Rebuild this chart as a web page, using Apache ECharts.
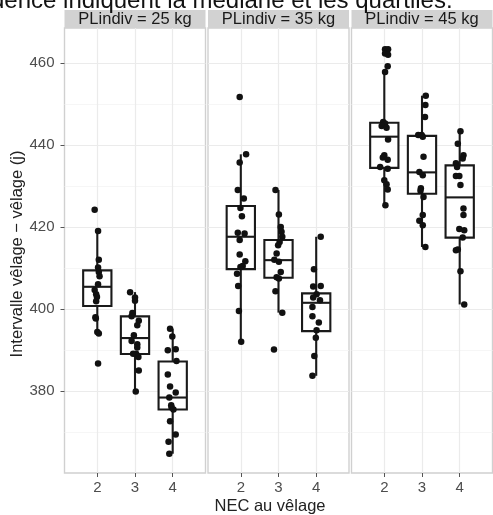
<!DOCTYPE html>
<html>
<head>
<meta charset="utf-8">
<script src="https://cdn.jsdelivr.net/npm/echarts@6/dist/echarts.min.js"></script>
<style>html,body{margin:0;padding:0;background:#fff;}#c{width:493px;height:515px;}</style>
</head>
<body>
<div id="c"></div>
<script>
const categories = [2, 3, 4];
const panelLabels = ['PLindiv = 25 kg', 'PLindiv = 35 kg', 'PLindiv = 45 kg'];
const yTicks = [380, 400, 420, 440, 460];

// jittered observations [x position, value]
const points25 = [
  [1.93,424.2],[2.02,419.0],[2.04,412.0],[2.02,410.1],[2.04,409.0],[2.06,408.0],[2.02,406.0],[1.93,404.6],[1.97,403.6],[1.99,402.9],[1.97,401.9],[1.95,398.0],[1.96,397.7],[2.00,394.4],[2.04,394.0],[2.02,386.7],
  [2.87,404.1],[3.00,402.8],[3.00,402.0],[2.93,399.0],[2.91,398.2],[3.10,397.1],[3.06,396.0],[2.97,393.6],[2.91,392.2],[3.06,391.4],[3.06,390.6],[3.03,389.1],[2.95,389.1],[3.09,388.3],[3.10,385.0],[3.02,379.9],
  [3.93,395.2],[3.99,393.3],[3.87,389.9],[4.08,390.2],[4.10,387.3],[3.87,384.0],[3.93,381.1],[4.08,379.6],[3.91,378.4],[3.96,376.5],[3.97,376.0],[4.02,375.5],[3.93,372.6],[4.08,369.4],[3.89,367.6],[3.91,364.7]
];
const points35 = [
  [1.97,451.7],[2.14,437.7],[1.97,435.7],[1.92,429.0],[2.08,426.9],[1.99,424.6],[2.03,422.6],[1.92,418.6],[2.10,418.4],[1.97,416.8],[1.97,413.3],[2.12,411.6],[2.05,410.5],[1.99,410.2],[1.90,408.6],[1.93,405.6],[1.95,399.5],[2.01,392.0],
  [2.92,429.0],[3.01,423.0],[3.06,420.0],[3.08,418.8],[3.10,417.6],[3.03,416.3],[2.99,415.5],[2.95,413.5],[2.89,412.0],[3.01,411.5],[3.06,409.0],[2.95,407.7],[3.01,407.4],[2.92,404.3],[3.10,399.1],[2.88,390.1],
  [4.12,417.6],[3.94,409.7],[3.92,405.5],[4.12,405.6],[4.01,403.6],[3.92,402.8],[4.10,402.1],[3.90,400.5],[3.90,398.2],[4.07,396.7],[4.01,394.8],[3.99,393.0],[3.95,388.5],[3.90,383.7]
];
const points45 = [
  [2.02,463.3],[2.10,463.3],[2.02,462.3],[2.10,462.0],[2.09,459.2],[2.02,457.8],[1.97,445.6],[2.02,445.2],[1.93,444.6],[2.06,444.2],[2.10,441.3],[2.00,437.5],[1.96,436.9],[2.09,436.4],[1.89,434.6],[2.09,434.2],[2.00,431.4],[2.06,430.4],[2.09,429.1],[2.03,425.3],
  [3.10,452.0],[3.09,449.7],[3.08,446.8],[2.90,442.4],[2.99,442.4],[3.02,442.0],[3.04,437.1],[2.93,433.4],[3.02,432.6],[2.97,429.4],[2.96,428.8],[3.04,427.3],[3.02,422.9],[2.93,421.5],[3.02,420.4],[3.09,415.1],
  [4.02,443.3],[3.95,440.3],[4.10,437.5],[4.08,436.7],[3.90,435.5],[3.93,434.6],[3.90,432.4],[3.99,432.4],[4.02,430.2],[4.10,424.5],[4.10,422.9],[3.99,419.5],[4.12,419.2],[4.08,417.4],[3.95,414.5],[3.90,414.3],[4.02,409.2],[4.12,401.1]
];

// box statistics per category: [lower whisker, Q1, median, Q3, upper whisker]
const box25 = [[394.0,400.7,405.4,409.4,419.0],[379.9,389.0,392.9,398.2,404.1],[364.7,375.5,378.4,387.2,395.2]];
const box35 = [[392.0,409.7,417.6,425.1,437.7],[399.1,407.6,411.9,416.8,429.0],[383.7,394.6,401.5,403.8,417.6]];
const box45 = [[425.3,434.4,442.0,445.4,457.8],[415.1,428.1,433.3,442.2,452.0],[401.1,417.4,427.2,435.0,443.3]];

const allPoints = [points25, points35, points45];
const allBoxes = [box25, box35, box45];

const FONT = "'Liberation Sans', Arial, Helvetica, sans-serif";
const panelLeft = [64.5, 208, 351.5];
const panelW = 141;
const panelTop = 28, panelBottom = 473;

function renderBox(params, api) {
  const x = api.value(0);
  const lo = api.coord([x, api.value(1)]);
  const q1 = api.coord([x, api.value(2)]);
  const md = api.coord([x, api.value(3)]);
  const q3 = api.coord([x, api.value(4)]);
  const hi = api.coord([x, api.value(5)]);
  const w = api.size([0.75, 0])[0];
  const cx = q1[0];
  const ls = {stroke: '#1a1a1a', lineWidth: 2.1, fill: null};
  return {type: 'group', children: [
    {type: 'line', shape: {x1: cx, y1: hi[1], x2: cx, y2: q3[1]}, style: ls},
    {type: 'line', shape: {x1: cx, y1: q1[1], x2: cx, y2: lo[1]}, style: ls},
    {type: 'rect', shape: {x: cx - w / 2, y: q3[1], width: w, height: q1[1] - q3[1]}, style: {stroke: '#1a1a1a', lineWidth: 2.1, fill: '#ffffff'}},
    {type: 'line', shape: {x1: cx - w / 2, y1: md[1], x2: cx + w / 2, y2: md[1]}, style: ls}
  ]};
}

const grids = [], xAxes = [], yAxes = [], series = [], graphics = [];
for (let i = 0; i < 3; i++) {
  grids.push({left: panelLeft[i], top: panelTop, width: panelW, height: panelBottom - panelTop,
    show: true, backgroundColor: '#ffffff', borderColor: '#d0d0d0', borderWidth: 1.4, containLabel: false});
  xAxes.push({type: 'value', gridIndex: i, min: 1.13, max: 4.87, splitNumber: 3,
    axisLine: {show: false},
    axisTick: {show: true, length: 4, lineStyle: {color: '#555', width: 1}, customValues: categories},
    axisLabel: {show: true, customValues: categories, color: '#4d4d4d', fontSize: 15, fontFamily: FONT, margin: 7},
    splitLine: {show: true, lineStyle: {color: '#ebebeb', width: 1.2}},
    minorSplitLine: {show: false}});
  yAxes.push({type: 'value', gridIndex: i, min: 360, max: 468.5, interval: 20,
    axisLine: {show: false},
    axisTick: {show: i === 0, length: 4, lineStyle: {color: '#555', width: 1}, customValues: yTicks},
    axisLabel: {show: i === 0, customValues: yTicks, color: '#4d4d4d', fontSize: 15, fontFamily: FONT, margin: 10},
    splitLine: {show: true, lineStyle: {color: '#ebebeb', width: 1.2}},
    minorTick: {show: false, splitNumber: 2},
    minorSplitLine: {show: true, lineStyle: {color: '#f4f4f4', width: 0.8}}});
  series.push({type: 'custom', xAxisIndex: i, yAxisIndex: i, renderItem: renderBox,
    encode: {x: 0, y: [1, 2, 3, 4, 5]},
    data: allBoxes[i].map((b, k) => [categories[k]].concat(b)), z: 2, silent: true});
  series.push({type: 'scatter', xAxisIndex: i, yAxisIndex: i, data: allPoints[i],
    symbol: 'circle', symbolSize: 6.5, itemStyle: {color: '#111111', opacity: 1}, z: 3, silent: true});
  graphics.push({type: 'rect', shape: {x: panelLeft[i], y: 10, width: panelW, height: 18}, style: {fill: '#d2d2d2'}, z: 10});
  graphics.push({type: 'text', x: panelLeft[i] + panelW / 2, y: 19.5,
    style: {text: panelLabels[i], fill: '#1a1a1a', font: '16.5px ' + FONT, align: 'center', verticalAlign: 'middle'}, z: 11});
}
graphics.push({type: 'text', x: -9, y: 1.5,
  style: {text: 'dence indiquent la médiane et les quartiles.', fill: '#111', font: '24px ' + FONT, align: 'left', verticalAlign: 'middle'}, z: 11});
graphics.push({type: 'text', x: 270, y: 506,
  style: {text: 'NEC au vêlage', fill: '#222', font: '16.5px ' + FONT, align: 'center', verticalAlign: 'middle'}, z: 11});
graphics.push({type: 'text', x: 17, y: 254, rotation: Math.PI / 2,
  style: {text: 'Intervalle vêlage − vêlage (j)', fill: '#222', font: '16.5px ' + FONT, align: 'center', verticalAlign: 'middle'}, z: 11});

const chart = echarts.init(document.getElementById('c'), null, {renderer: 'canvas'});
chart.setOption({
  animation: false,
  backgroundColor: '#ffffff',
  grid: grids, xAxis: xAxes, yAxis: yAxes, series: series,
  graphic: graphics
});
</script>
</body>
</html>
